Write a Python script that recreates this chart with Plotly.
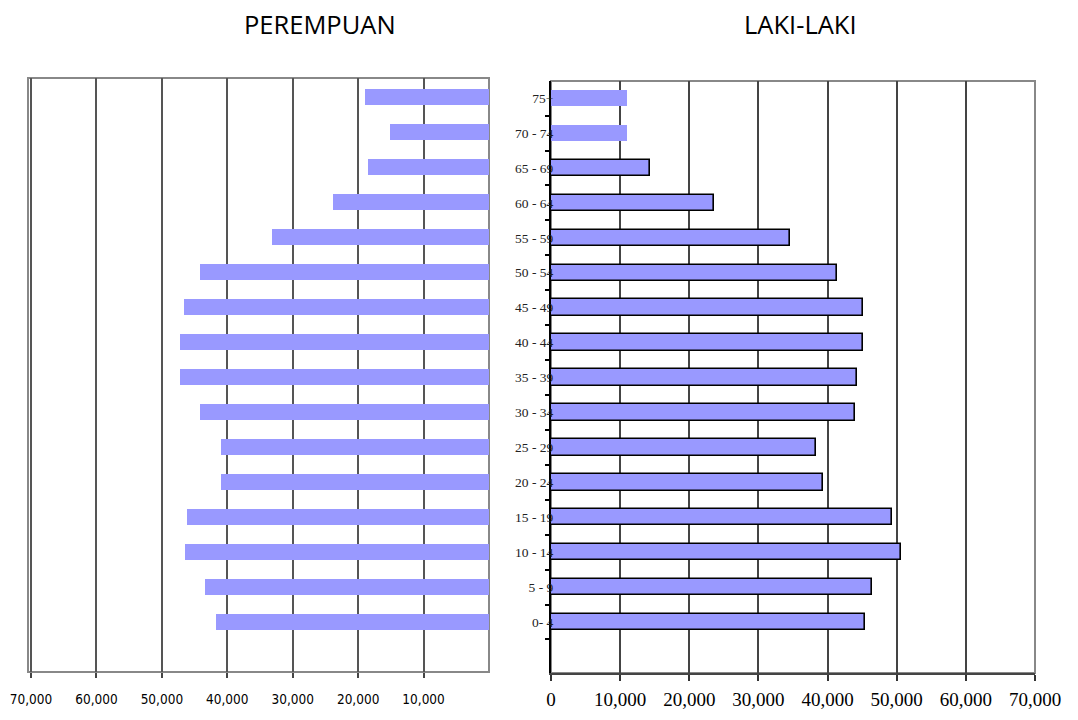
import plotly.graph_objects as go

# ---- data ----
age_groups = ["0- 4", "5 - 9", "10 - 14", "15 - 19", "20 - 24", "25 - 29", "30 - 34",
              "35 - 39", "40 - 44", "45 - 49", "50 - 54", "55 - 59", "60 - 64",
              "65 - 69", "70 - 74", "75+"]
female = [41700, 43400, 46500, 46200, 41000, 41000, 44200, 47200,
          47200, 46600, 44200, 33200, 23900, 18500, 15100, 19000]
male = [45400, 46400, 50600, 49300, 39400, 38300, 43900, 44300,
        45100, 45100, 41300, 34600, 23600, 14300, 11000, 11000]
male_outlined = [True] * 14 + [False, False]
left_tick_vals = [70000, 60000, 50000, 40000, 30000, 20000, 10000]
right_tick_vals = [0, 10000, 20000, 30000, 40000, 50000, 60000, 70000]
titles = ["PEREMPUAN", "LAKI-LAKI"]

W, H = 1078, 720
OFF = 8  # page body margin offset
BAR = "#9999FF"


def px_x(p):
    return (p - OFF) / W


def px_y(p):
    return 1 - (p - OFF) / H


fig = go.Figure()
fig.add_trace(go.Bar(
    x=female, y=age_groups, orientation="h", xaxis="x", yaxis="y",
    marker=dict(color=BAR, line=dict(width=0)), width=0.47,
    showlegend=False, hoverinfo="x+y"))
fig.add_trace(go.Bar(
    x=male, y=age_groups, orientation="h", xaxis="x2", yaxis="y2",
    marker=dict(color=BAR,
                line=dict(color="black", width=[1.6 if o else 0 for o in male_outlined])),
    width=0.47, showlegend=False, hoverinfo="x+y"))

left_span = 70000 * (489 - 28) / (489 - 31)

fig.update_layout(
    width=W, height=H, autosize=False,
    margin=dict(l=0, r=0, t=0, b=0, pad=0, autoexpand=False),
    paper_bgcolor="white", plot_bgcolor="white",
    bargap=0,
    xaxis=dict(
        domain=[px_x(28), px_x(489)], range=[left_span, 0], anchor="y",
        automargin=False,
        tickvals=left_tick_vals, ticktext=[f"{v:,}" for v in left_tick_vals],
        ticks="outside", ticklen=5, tickcolor="#444", tickwidth=1.5,
        showgrid=True, gridcolor="#555", gridwidth=1.5,
        showline=False, zeroline=False,
        tickfont=dict(family="DejaVu Sans Condensed, DejaVu Sans, sans-serif",
                      size=13.5, color="black"),
        ticklabelstandoff=10,
    ),
    yaxis=dict(
        domain=[px_y(672), px_y(78)], type="category", anchor="x",
        automargin=False,
        categoryorder="array", categoryarray=age_groups,
        range=[-1.43, 15.54], showticklabels=False, showgrid=False,
        ticks="", showline=False, zeroline=False,
    ),
    xaxis2=dict(
        domain=[px_x(551), px_x(1035)], range=[0, 70000], anchor="y2",
        automargin=False,
        tickvals=right_tick_vals, tickformat=",d",
        ticks="outside", ticklen=6, tickcolor="#333", tickwidth=1.5,
        showgrid=True, gridcolor="#444", gridwidth=1.5,
        showline=True, linecolor="#444", linewidth=2, zeroline=False,
        tickfont=dict(family="Liberation Serif, Times New Roman, serif", size=19, color="black"),
        ticklabelstandoff=2,
    ),
    yaxis2=dict(
        domain=[px_y(673), px_y(81)], type="category", anchor="x2",
        automargin=False,
        categoryorder="array", categoryarray=age_groups,
        range=[-1.46, 15.49], tickson="boundaries",
        ticks="outside", ticklen=4, tickcolor="black", tickwidth=1.5,
        showgrid=False, showline=True, linecolor="black", linewidth=2,
        zeroline=False,
        tickfont=dict(family="Liberation Serif, Times New Roman, serif", size=13.5, color="#222"),
        ticklabelstandoff=-7,
    ),
    shapes=[
        dict(type="rect", xref="x domain", yref="y domain", x0=0, x1=1, y0=0, y1=1,
             line=dict(color="#888", width=2), layer="below"),
        dict(type="rect", xref="x2 domain", yref="y2 domain", x0=0, x1=1, y0=0, y1=1,
             line=dict(color="#888", width=2), layer="below"),
    ],
    annotations=[
        dict(text=titles[0], x=px_x(320), y=px_y(24), xref="paper", yref="paper",
             xanchor="center", yanchor="middle", showarrow=False,
             font=dict(family="Open Sans, sans-serif", size=25.5, color="black")),
        dict(text=titles[1], x=px_x(800), y=px_y(24), xref="paper", yref="paper",
             xanchor="center", yanchor="middle", showarrow=False,
             font=dict(family="Open Sans, sans-serif", size=25.5, color="black")),
    ],
)

fig.write_html("out.html")
